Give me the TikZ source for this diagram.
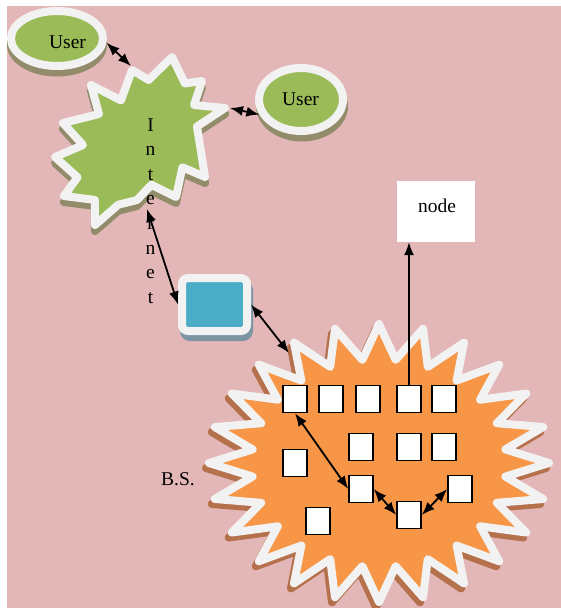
\documentclass[tikz,border=0pt]{standalone}
\usepackage{fontspec}
\setmainfont{Liberation Serif}
\usetikzlibrary{shapes.geometric,arrows.meta}
\definecolor{pinkbg}{HTML}{E3B7B8}
\definecolor{greenf}{HTML}{9BBB59}
\definecolor{orangef}{HTML}{F79646}
\definecolor{bluef}{HTML}{4BACC6}
\definecolor{ringc}{HTML}{F2F2F2}
\definecolor{shgreen}{HTML}{928C6A}
\definecolor{shorange}{HTML}{B5714C}
\definecolor{shblue}{HTML}{7D95A3}

% twelve-point burst of the internet cloud
\newcommand\netstarpath[1]{\path[#1] (172,57) -- (185,83.5) -- (202,81) -- (194,105) -- (225,108)
  -- (197,126.5) -- (205,177) -- (182.4,167.3) -- (176,197) -- (151.4,184.8) -- (137,200) -- (118.3,204.7)
  -- (95,225) -- (94.8,199.9) -- (64,196) -- (77.5,177.3) -- (55,157) -- (83,145) -- (63,123)
  -- (99,114) -- (91,85) -- (121,100.4) -- (132,70) -- (148.7,80) -- cycle;}

% 24-point star of the base station
\newcommand\burstpath[1]{\path[#1] (379,324) \foreach \i in {0,...,23}{
    -- ({379+127.5*cos(97.5+15*\i)},{463-104*sin(97.5+15*\i)})
    -- ({379+170*cos(105+15*\i)},{463-139*sin(105+15*\i)}) } -- cycle;}

\begin{document}
\begin{tikzpicture}[x=1pt,y=-1pt,
  ring/.style={draw=ringc, line width=8pt, line join=round},
  sq/.style={draw=black, fill=white, line width=1.4pt, minimum width=24pt, minimum height=27pt, inner sep=0pt},
  lbl/.style={font=\fontsize{19.5}{22}\selectfont, inner sep=0pt, anchor=base},
  dbl/.style={{Latex[length=13pt,width=10pt]}-{Latex[length=13pt,width=10pt]}, line width=1.8pt},
  one/.style={-{Latex[length=13pt,width=10pt]}, line width=1.5pt}]
\useasboundingbox (0,0) rectangle (561,608);
\fill[pinkbg] (7,6) rectangle (561,608);

% shadows
\fill[shgreen] (57,45) ellipse [x radius=50, y radius=31.5];
\fill[shgreen] (302,106) ellipse [x radius=46, y radius=35.5];
\begin{scope}[shift={(0,6)}]
  \netstarpath{fill=shgreen, draw=shgreen, line width=8pt, line join=round}
\end{scope}
\begin{scope}[shift={(-3,5)}]
  \burstpath{fill=shorange, draw=shorange, line width=8pt, line join=round}
\end{scope}
\fill[shblue, rounded corners=10pt] (180,280) rectangle (253,341);

% shapes
\netstarpath{fill=greenf, ring}
\burstpath{fill=orangef, ring}
\node[ellipse, ring, fill=greenf, minimum width=92pt, minimum height=55pt, inner sep=0pt] (user1) at (57,38.5) {};
\node[ellipse, ring, fill=greenf, minimum width=84pt, minimum height=63pt, inner sep=0pt] (user2) at (301,99.5) {};
\node[ring, fill=bluef, rounded corners=6pt, minimum width=65pt, minimum height=53pt, inner sep=0pt] (bluebox) at (214.5,304.5) {};
\node[fill=white, minimum width=78pt, minimum height=61pt, inner sep=0pt] (nodebox) at (436,211.5) {};

% sensor nodes
\node[sq] (a1) at (295,399) {};
\node[sq] (a2) at (331,399) {};
\node[sq] (a3) at (368,399) {};
\node[sq] (a4) at (409,399) {};
\node[sq] (a5) at (444,399) {};
\node[sq] (b1) at (361,447) {};
\node[sq] (b2) at (409,447) {};
\node[sq] (b3) at (444,447) {};
\node[sq] (l1) at (295,463) {};
\node[sq] (c1) at (361,489) {};
\node[sq] (c2) at (460,489) {};
\node[sq] (d1) at (409,515) {};
\node[sq] (e1) at (318,521) {};

% texts
\node[lbl] (t1) at (67.5,48) {User};
\node[lbl] (t2) at (300.5,105) {User};
\node[lbl] (t3) at (437,212) {node};
\node[lbl] (t4) at (178,485) {B.S.};
\foreach \l [count=\k] in {I,n,t,e,r,n,e,t}
  \node[lbl] (net\k) at (150.5,{131+24.6*(\k-1)}) {\l};

% connector ends on the two bursts
\coordinate (netnw) at (131,66);
\coordinate (nete) at (230,108);
\coordinate (nets) at (147,209);
\coordinate (bsnw) at (289,353);

% connectors
\draw[dbl] (user1.-5) -- (netnw);
\draw[dbl] (nete) -- (user2.200);
\draw[dbl] (nets) -- (bluebox.west);
\draw[dbl] (bluebox.east) -- (bsnw);
\draw[dbl] (a1.south) -- (c1.west);
\draw[dbl] (c1.east) -- (d1.west);
\draw[dbl] (d1.east) -- (c2.west);
\draw[one] (a4.north) -- (a4.north |- nodebox.south);
\end{tikzpicture}
\end{document}
